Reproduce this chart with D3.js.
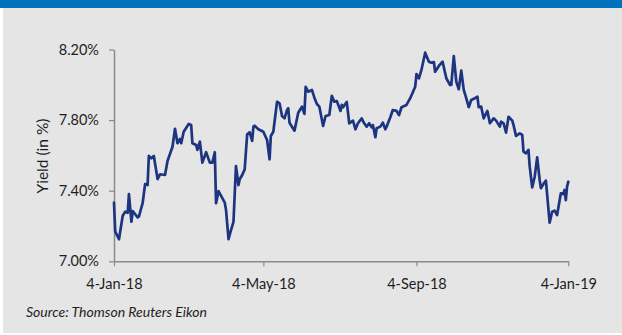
<!DOCTYPE html>
<html>
<head>
<meta charset="utf-8">
<script src="https://cdn.jsdelivr.net/npm/d3@7"></script>
<style>
  html, body { margin: 0; padding: 0; background: #ffffff; }
  svg { display: block; }
</style>
</head>
<body>
<svg id="chart" width="622" height="335"></svg>
<script>
// ---- data ----
const dates = [
  "2018-01-04","2018-01-05","2018-01-08","2018-01-11","2018-01-13","2018-01-15","2018-01-16","2018-01-18","2018-01-19","2018-01-23",
  "2018-01-24","2018-01-27","2018-01-29","2018-01-31","2018-02-01","2018-02-03","2018-02-05","2018-02-08","2018-02-10","2018-02-14",
  "2018-02-16","2018-02-20","2018-02-22","2018-02-24","2018-02-26","2018-02-27","2018-03-01","2018-03-05","2018-03-07","2018-03-08",
  "2018-03-11","2018-03-12","2018-03-14","2018-03-16","2018-03-19","2018-03-22","2018-03-24","2018-03-26","2018-03-27","2018-03-29",
  "2018-04-03","2018-04-04","2018-04-06","2018-04-08","2018-04-10","2018-04-12","2018-04-14","2018-04-15","2018-04-17","2018-04-19",
  "2018-04-21","2018-04-23","2018-04-25","2018-04-26","2018-04-27","2018-04-30","2018-05-04","2018-05-07","2018-05-09","2018-05-10",
  "2018-05-12","2018-05-15","2018-05-17","2018-05-19","2018-05-21","2018-05-23","2018-05-24","2018-05-25","2018-05-29","2018-06-01",
  "2018-06-04","2018-06-06","2018-06-07","2018-06-09","2018-06-12","2018-06-14","2018-06-16","2018-06-18","2018-06-21","2018-06-23",
  "2018-06-26","2018-06-28","2018-06-30","2018-07-02","2018-07-05","2018-07-06","2018-07-07","2018-07-10","2018-07-12","2018-07-15",
  "2018-07-17","2018-07-19","2018-07-22","2018-07-24","2018-07-26","2018-07-28","2018-07-30","2018-07-31","2018-08-02","2018-08-03",
  "2018-08-06","2018-08-08","2018-08-10","2018-08-11","2018-08-14","2018-08-16","2018-08-19","2018-08-21","2018-08-23","2018-08-27",
  "2018-08-30","2018-09-03","2018-09-04","2018-09-06","2018-09-08","2018-09-11","2018-09-14","2018-09-16","2018-09-18","2018-09-19",
  "2018-09-22","2018-09-25","2018-09-28","2018-10-01","2018-10-02","2018-10-04","2018-10-06","2018-10-08","2018-10-10","2018-10-12",
  "2018-10-14","2018-10-16","2018-10-18","2018-10-21","2018-10-23","2018-10-24","2018-10-26","2018-10-28","2018-10-31","2018-11-02",
  "2018-11-05","2018-11-07","2018-11-10","2018-11-11","2018-11-13","2018-11-15","2018-11-17","2018-11-20","2018-11-21","2018-11-23",
  "2018-11-26","2018-11-28","2018-11-29","2018-12-01","2018-12-03","2018-12-04","2018-12-06","2018-12-08","2018-12-10","2018-12-12",
  "2018-12-13","2018-12-15","2018-12-17","2018-12-20","2018-12-22","2018-12-24","2018-12-26","2018-12-29","2018-12-31","2019-01-01",
  "2019-01-02","2019-01-03","2019-01-04"
];
const yields = [
  7.332,7.168,7.125,7.258,7.281,7.275,7.381,7.224,7.285,7.249,
  7.253,7.329,7.438,7.432,7.597,7.584,7.597,7.466,7.493,7.489,
  7.568,7.649,7.751,7.669,7.693,7.669,7.734,7.778,7.772,7.669,
  7.659,7.631,7.678,7.559,7.618,7.559,7.559,7.618,7.329,7.398,
  7.332,7.291,7.126,7.177,7.224,7.540,7.432,7.465,7.489,7.521,
  7.720,7.731,7.682,7.763,7.768,7.748,7.734,7.687,7.578,7.710,
  7.734,7.904,7.895,7.823,7.810,7.857,7.867,7.785,7.740,7.842,
  7.876,7.835,7.989,7.961,7.971,7.927,7.891,7.876,7.767,7.823,
  7.829,7.938,7.904,7.908,7.852,7.886,7.873,7.903,7.782,7.797,
  7.748,7.782,7.810,7.782,7.763,7.782,7.759,7.772,7.703,7.754,
  7.763,7.785,7.748,7.763,7.816,7.857,7.852,7.829,7.873,7.886,
  7.924,7.989,8.061,8.037,8.084,8.182,8.131,8.125,8.129,8.074,
  8.107,8.131,8.037,7.999,7.999,8.163,8.018,7.975,8.080,7.971,
  7.924,7.873,7.914,7.924,7.933,7.873,7.876,7.810,7.852,7.782,
  7.810,7.797,7.763,7.791,7.782,7.729,7.819,7.797,7.772,7.710,
  7.725,7.716,7.621,7.612,7.631,7.536,7.419,7.479,7.589,7.461,
  7.414,7.438,7.457,7.219,7.281,7.287,7.262,7.385,7.381,7.404,
  7.347,7.423,7.451
];
const yTicks = [7.00, 7.40, 7.80, 8.20];
const xTickDates = ["2018-01-04","2018-05-04","2018-09-04","2019-01-04"];
const xTickLabels = ["4-Jan-18","4-May-18","4-Sep-18","4-Jan-19"];
const yAxisTitle = "Yield (in %)";
const sourceNote = "Source: Thomson Reuters Eikon";

// ---- drawing ----
const parse = d3.utcParse("%Y-%m-%d");
const data = dates.map((d, i) => ({ date: parse(d), value: yields[i] }));
const tickDates = xTickDates.map(parse);

const svg = d3.select("#chart");
const W = 622, H = 335;
const FONT = "Lato, 'Open Sans', sans-serif";

// frame: blue top band + grey panel
svg.append("rect").attr("x", 0).attr("y", 0).attr("width", W).attr("height", H).attr("fill", "#ffffff");
svg.append("rect").attr("x", 3).attr("y", 0).attr("width", W - 3).attr("height", 333).attr("fill", "#e5e5e5");
svg.append("rect").attr("x", 0).attr("y", 0).attr("width", W).attr("height", 8).attr("fill", "#0072bc");

const x = d3.scaleUtc().domain([tickDates[0], tickDates[tickDates.length - 1]]).range([114, 568.3]);
const y = d3.scaleLinear().domain([7.0, 8.2]).range([261.3, 49.5]);

const axisColor = "#8a8a8a";
const textColor = "#1e1e1e";

// y axis
const gy = svg.append("g").attr("transform", "translate(114,0)")
  .call(d3.axisLeft(y).tickValues(yTicks).tickFormat(d => d.toFixed(2) + "%")
    .tickSize(5).tickSizeOuter(0).tickPadding(10));
// x axis
const gx = svg.append("g").attr("transform", "translate(0,261.3)")
  .call(d3.axisBottom(x).tickValues(tickDates).tickFormat((d, i) => xTickLabels[i])
    .tickSize(5).tickSizeOuter(0).tickPadding(12));

[gy, gx].forEach(g => {
  g.select(".domain").attr("stroke", axisColor).attr("stroke-width", 1.5);
  g.selectAll(".tick line").attr("stroke", axisColor).attr("stroke-width", 1.2);
  g.selectAll(".tick text").attr("fill", textColor).attr("font-family", FONT).attr("font-size", 14.5);
});

// line
const line = d3.line().x(d => x(d.date)).y(d => y(d.value));
svg.append("path").datum(data)
  .attr("d", line)
  .attr("fill", "none")
  .attr("stroke", "#1d3580")
  .attr("stroke-width", 2.7)
  .attr("stroke-linejoin", "round")
  .attr("stroke-linecap", "round");

// y title
svg.append("text")
  .attr("transform", "translate(48,156) rotate(-90)")
  .attr("text-anchor", "middle")
  .attr("font-family", FONT).attr("font-size", 15.5).attr("fill", textColor)
  .text(yAxisTitle);

// source
svg.append("text")
  .attr("x", 26).attr("y", 317)
  .attr("font-family", FONT).attr("font-size", 14).attr("font-style", "italic").attr("fill", textColor)
  .text(sourceNote);
</script>
</body>
</html>
